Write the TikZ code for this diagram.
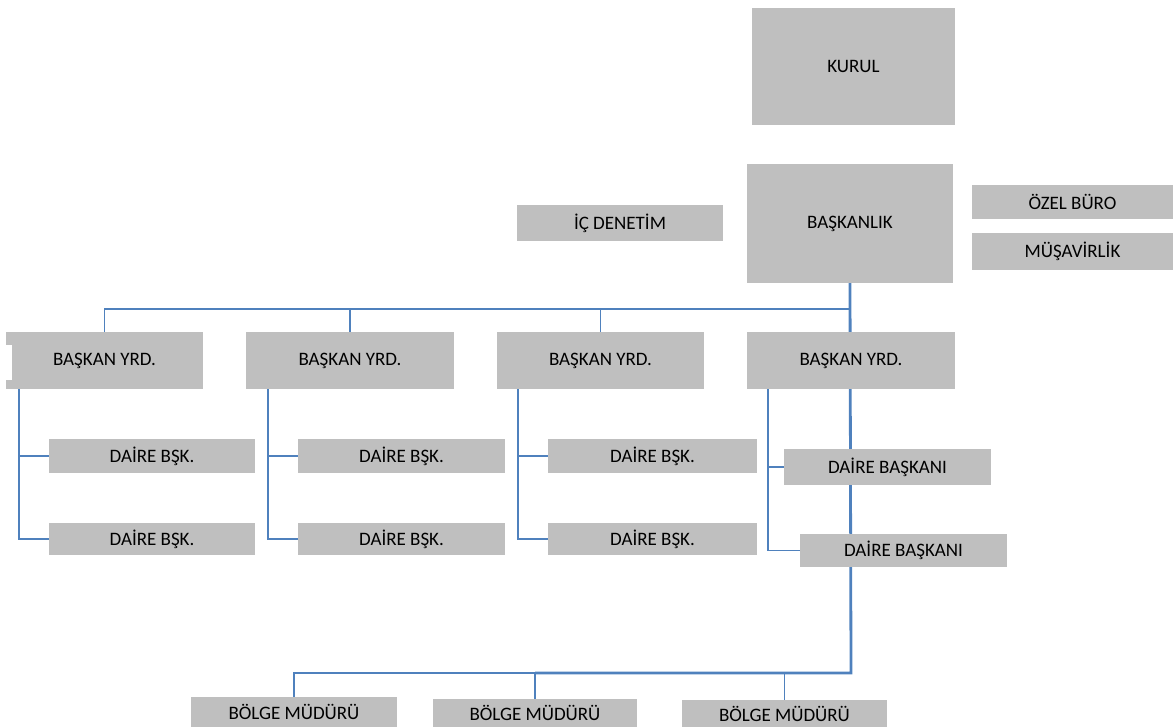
\documentclass[tikz,border=0pt]{standalone}
\usepackage{fontspec}
\setmainfont{Carlito}
\usetikzlibrary{backgrounds}
\definecolor{boxgrey}{RGB}{191,191,191}
\definecolor{lineblue}{RGB}{79,129,189}
\begin{document}
\begin{tikzpicture}[x=1pt,y=-1pt,
  box/.style={fill=boxgrey,draw=none,inner sep=0pt,align=center,
    font=\fontsize{19}{21}\selectfont},
  ln/.style={draw=lineblue,line width=1.6pt},
  trunk/.style={draw=lineblue,line width=2.8pt}]
\useasboundingbox (0,0) rectangle (1173,727);
% boxes
\node[box,minimum width=203pt,minimum height=117pt] (kurul) at (853.5,66.5) {KURUL};
\node[box,minimum width=206pt,minimum height=119pt] (bask) at (850,223.5) {BAŞKANLIK};
\node[box,minimum width=206pt,minimum height=36pt] (ic) at (620,223) {İÇ DENETİM};
\node[box,minimum width=201pt,minimum height=34pt] (ozel) at (1072.5,202) {ÖZEL BÜRO};
\node[box,minimum width=201pt,minimum height=37pt] (musav) at (1072.5,251.5) {MÜŞAVİRLİK};
\node[box,minimum width=197pt,minimum height=57pt] (y1) at (104.5,360.5) {BAŞKAN YRD.};
\node[box,minimum width=208pt,minimum height=57pt] (y2) at (350,360.5) {BAŞKAN YRD.};
\node[box,minimum width=207pt,minimum height=57pt] (y3) at (600.5,360.5) {BAŞKAN YRD.};
\node[box,minimum width=208pt,minimum height=57pt] (y4) at (851,360.5) {BAŞKAN YRD.};
\node[box,minimum width=206pt,minimum height=34pt] (d11) at (152,456) {DAİRE BŞK.};
\node[box,minimum width=206pt,minimum height=32pt] (d12) at (152,539) {DAİRE BŞK.};
\node[box,minimum width=207pt,minimum height=34pt] (d21) at (401.5,456) {DAİRE BŞK.};
\node[box,minimum width=207pt,minimum height=32pt] (d22) at (401.5,539) {DAİRE BŞK.};
\node[box,minimum width=209pt,minimum height=34pt] (d31) at (652.5,456) {DAİRE BŞK.};
\node[box,minimum width=209pt,minimum height=32pt] (d32) at (652.5,539) {DAİRE BŞK.};
\node[box,minimum width=207pt,minimum height=36pt] (d41) at (887.5,467) {DAİRE BAŞKANI};
\node[box,minimum width=207pt,minimum height=33pt] (d42) at (903.5,550.5) {DAİRE BAŞKANI};
\node[box,minimum width=206pt,minimum height=30pt] (b1) at (294,712) {BÖLGE MÜDÜRÜ};
\node[box,minimum width=204pt,minimum height=28pt] (b2) at (535,713) {BÖLGE MÜDÜRÜ};
\node[box,minimum width=205pt,minimum height=27pt] (b3) at (784.5,713.5) {BÖLGE MÜDÜRÜ};
\fill[white] (6,345) rectangle (12,380);
% connectors
\coordinate (busR) at (851,309);
\coordinate (tb) at (851,673);
\coordinate (v1) at (19,389);
\coordinate (v2) at (268,389);
\coordinate (v3) at (518,389);
\coordinate (v4) at (768,389);
\begin{scope}[on background layer]
  \draw[ln] (y1.north) |- (busR);
  \draw[ln] (y2.north) -- (y2.north |- busR);
  \draw[ln] (y3.north) -- (y3.north |- busR);
  \draw[trunk] (bask.south) -- (tb) -- (tb -| b2.north);
  \draw[ln] (tb -| b2.north) -| (b1.north);
  \draw[ln] (b2.north) -- (b2.north |- tb);
  \draw[ln] (b3.north) -- (b3.north |- tb);
  \draw[ln] (v1) |- (d12.west);
  \draw[ln] (v1 |- d11.west) -- (d11.west);
  \draw[ln] (v2) |- (d22.west);
  \draw[ln] (v2 |- d21.west) -- (d21.west);
  \draw[ln] (v3) |- (d32.west);
  \draw[ln] (v3 |- d31.west) -- (d31.west);
  \draw[ln] (v4) |- (d42.west);
  \draw[ln] (v4 |- d41.west) -- (d41.west);
\end{scope}
\end{tikzpicture}
\end{document}
